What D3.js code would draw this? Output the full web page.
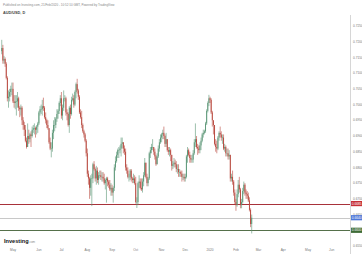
<!DOCTYPE html>
<html>
<head>
<meta charset="utf-8">
<title>AUD/USD, D</title>
<script src="https://cdn.jsdelivr.net/npm/d3@7"></script>
<style>
	body { margin: 0; background: #fff; }
	svg { display: block; font-family: "Liberation Sans", Arial, sans-serif; }
</style>
</head>
<body>
<script type="text/javascript">
	// daily AUD/USD bars, first bar 17 Apr 2019, one entry per weekday
	var startDay = "2019-04-17";
	var axisEndDay = "2020-06-30";
	var firstOpen = 0.7170;

	var closes = [
		0.7180,0.7140,0.7145,0.7130,0.7085,0.7020,0.7025,0.7040,0.7050,0.7050,
		0.7010,0.7005,0.7010,0.7010,0.7020,0.6990,0.6985,0.6990,0.6950,0.6935,0.6920,0.6885,0.6865,0.6900,0.6890,0.6905,0.6900,0.6920,0.6925,0.6925,0.6920,0.6930,0.6940,
		0.6975,0.6985,0.6985,0.6995,0.6990,0.6960,0.6950,0.6935,0.6925,0.6880,0.6860,0.6860,0.6910,0.6935,0.6935,0.6955,0.6970,0.6980,0.7005,0.7020,
		0.6965,0.6990,0.7020,0.7020,0.6975,0.6970,0.6935,0.6990,0.6970,0.7015,0.7020,0.7000,0.7040,0.7065,0.7045,0.7025,0.6975,0.6960,0.6935,0.6915,0.6905,0.6885,0.6845,
		0.6780,0.6765,0.6735,0.6765,0.6765,0.6810,0.6795,0.6765,0.6790,0.6760,0.6775,0.6775,0.6770,0.6770,0.6765,0.6750,0.6760,0.6765,0.6755,0.6745,0.6730,0.6735,
		0.6720,0.6735,0.6800,0.6820,0.6840,0.6855,0.6855,0.6860,0.6875,0.6880,0.6860,0.6850,0.6800,0.6790,0.6770,0.6770,0.6790,0.6765,0.6760,0.6765,0.6750,
		0.6690,0.6690,0.6750,0.6755,0.6735,0.6730,0.6755,0.6775,0.6815,0.6770,0.6750,0.6765,0.6845,0.6855,0.6865,0.6865,0.6850,0.6835,0.6810,0.6835,0.6860,0.6880,0.6895,
		0.6905,0.6910,0.6900,0.6875,0.6890,0.6855,0.6850,0.6855,0.6840,0.6805,0.6810,0.6815,0.6810,0.6795,0.6795,0.6785,0.6785,0.6780,0.6770,0.6770,0.6765,
		0.6770,0.6835,0.6855,0.6840,0.6830,0.6825,0.6825,0.6845,0.6880,0.6890,0.6865,0.6860,0.6855,0.6870,0.6885,0.6905,0.6910,0.6915,0.6940,0.6980,0.7005,0.7020,
		0.7015,0.6975,0.6950,0.6935,0.6875,0.6865,0.6860,0.6895,0.6910,0.6905,0.6895,0.6895,0.6860,0.6865,0.6845,0.6845,0.6835,0.6840,0.6765,0.6770,0.6755,0.6720,0.6690,
		0.6680,0.6715,0.6745,0.6730,0.6680,0.6690,0.6725,0.6745,0.6720,0.6715,0.6710,0.6695,0.6665,0.6620,0.6640
	];
	var highs = [
		0.7206,0.7190,0.7155,0.7150,0.7135,0.7090,0.7045,0.7050,0.7060,0.7070,
		0.7070,0.7030,0.7030,0.7030,0.7040,0.7025,0.6995,0.7000,0.6995,0.6960,0.6945,0.6935,0.6895,0.6940,0.6920,0.6910,0.6915,0.6930,0.6935,0.6940,0.6930,0.6935,0.6945,
		0.6980,0.6995,0.7000,0.7015,0.7022,0.6995,0.6975,0.6955,0.6950,0.6925,0.6895,0.6880,0.6920,0.6950,0.6960,0.6960,0.6985,0.6985,0.7010,0.7030,
		0.7040,0.7000,0.7045,0.7030,0.7025,0.6985,0.6975,0.6995,0.7000,0.7025,0.7035,0.7030,0.7045,0.7070,0.7082,0.7050,0.7030,0.6985,0.6980,0.6940,0.6920,0.6910,0.6890,
		0.6860,0.6790,0.6770,0.6775,0.6780,0.6815,0.6820,0.6800,0.6805,0.6800,0.6785,0.6790,0.6790,0.6785,0.6785,0.6780,0.6765,0.6770,0.6770,0.6760,0.6760,0.6750,
		0.6745,0.6740,0.6810,0.6835,0.6850,0.6860,0.6865,0.6870,0.6895,0.6895,0.6880,0.6870,0.6860,0.6810,0.6800,0.6780,0.6795,0.6795,0.6770,0.6780,0.6775,
		0.6770,0.6705,0.6755,0.6775,0.6765,0.6765,0.6765,0.6785,0.6830,0.6815,0.6780,0.6770,0.6850,0.6865,0.6875,0.6890,0.6865,0.6860,0.6840,0.6845,0.6870,0.6890,0.6905,
		0.6910,0.6920,0.6930,0.6905,0.6910,0.6890,0.6865,0.6865,0.6860,0.6840,0.6820,0.6830,0.6825,0.6820,0.6810,0.6810,0.6795,0.6790,0.6790,0.6780,0.6780,
		0.6780,0.6840,0.6865,0.6860,0.6850,0.6840,0.6840,0.6855,0.6890,0.6940,0.6900,0.6875,0.6870,0.6880,0.6895,0.6910,0.6920,0.6920,0.6945,0.6985,0.7010,0.7031,
		0.7025,0.7020,0.6980,0.6945,0.6935,0.6890,0.6885,0.6900,0.6915,0.6930,0.6915,0.6905,0.6905,0.6875,0.6870,0.6860,0.6860,0.6855,0.6810,0.6780,0.6790,0.6760,0.6730,
		0.6700,0.6730,0.6760,0.6770,0.6735,0.6700,0.6735,0.6755,0.6750,0.6730,0.6725,0.6720,0.6705,0.6670,0.6650
	];
	var lows = [
		0.7160,0.7130,0.7130,0.7120,0.7080,0.7010,0.6990,0.7010,0.7025,0.7030,
		0.7005,0.6990,0.6985,0.6965,0.6990,0.6980,0.6960,0.6965,0.6935,0.6920,0.6900,0.6880,0.6860,0.6880,0.6875,0.6880,0.6865,0.6895,0.6910,0.6905,0.6895,0.6905,0.6910,
		0.6935,0.6965,0.6970,0.6965,0.6980,0.6955,0.6940,0.6925,0.6920,0.6875,0.6855,0.6832,0.6850,0.6890,0.6915,0.6925,0.6945,0.6955,0.6970,0.6995,
		0.6955,0.6950,0.6980,0.7010,0.6965,0.6950,0.6930,0.6910,0.6955,0.6965,0.7010,0.6990,0.6995,0.7020,0.7035,0.7015,0.6970,0.6955,0.6925,0.6910,0.6895,0.6880,0.6835,
		0.6770,0.6745,0.6700,0.6710,0.6677,0.6750,0.6790,0.6755,0.6745,0.6750,0.6745,0.6765,0.6760,0.6755,0.6755,0.6745,0.6730,0.6688,0.6740,0.6735,0.6725,0.6710,
		0.6710,0.6688,0.6725,0.6790,0.6815,0.6830,0.6830,0.6845,0.6835,0.6860,0.6845,0.6840,0.6790,0.6780,0.6765,0.6755,0.6760,0.6755,0.6750,0.6750,0.6745,
		0.6685,0.6671,0.6680,0.6735,0.6730,0.6725,0.6720,0.6740,0.6770,0.6765,0.6740,0.6740,0.6760,0.6830,0.6845,0.6855,0.6840,0.6825,0.6805,0.6810,0.6830,0.6850,0.6875,
		0.6880,0.6890,0.6890,0.6865,0.6865,0.6850,0.6840,0.6835,0.6820,0.6790,0.6795,0.6800,0.6800,0.6785,0.6780,0.6770,0.6770,0.6770,0.6755,0.6760,0.6755,
		0.6755,0.6765,0.6815,0.6835,0.6815,0.6815,0.6815,0.6815,0.6840,0.6865,0.6860,0.6840,0.6845,0.6845,0.6855,0.6880,0.6895,0.6905,0.6910,0.6935,0.6975,0.6995,
		0.7005,0.6970,0.6930,0.6905,0.6870,0.6850,0.6845,0.6855,0.6885,0.6895,0.6885,0.6875,0.6855,0.6850,0.6835,0.6835,0.6825,0.6825,0.6755,0.6755,0.6745,0.6710,0.6682,
		0.6662,0.6675,0.6705,0.6720,0.6670,0.6670,0.6685,0.6715,0.6710,0.6700,0.6700,0.6690,0.6660,0.6610,0.6590
	];

	var priceTicks = d3.range(0.6550, 0.72501, 0.005);
	// drawn levels: support, last price, target
	var levelValues = [0.6685, 0.6640, 0.6600];
	var levelLabels = ["0.6685", "0.6640", "0.6600"];
	var levelLine = ["#a8323a", "#c8c8c8", "#55704a"];
	var levelBadge = ["#c62f37", "#4f78d8", "#3e6b36"];

	var headerText = "Published on Investing.com, 21/Feb/2020 - 10:52:10 GMT, Powered by TradingView";
	var titleText = "AUD/USD, D";

	var w = 362;
	var h = 254;
	var plotRight = 350;

	var svg = d3.select("body")
		.append("svg")
		.attr("width", w)
		.attr("height", h);

	// weekday calendar from the first bar to the end of the time axis
	var parse = d3.timeParse("%Y-%m-%d");
	var days = d3.timeDay.range(parse(startDay), d3.timeDay.offset(parse(axisEndDay), 1))
		.filter(function(d){ return d.getDay() != 0 && d.getDay() != 6; });

	var bars = closes.map(function(c, i){
		var o = i == 0 ? firstOpen : closes[i - 1];
		return { i: i, date: days[i], o: o, h: Math.max(highs[i], o, c), l: Math.min(lows[i], o, c), c: c };
	});

	var x = d3.scaleLinear().domain([-1.55, 309.3]).range([0, plotRight]);
	var y = d3.scaleLinear().domain([0.6550, 0.7250]).range([246, 26]);

	// axis border
	svg.append("line")
		.attr("x1", plotRight + 0.5).attr("x2", plotRight + 0.5)
		.attr("y1", 15).attr("y2", h)
		.attr("stroke", "#d6d6d6").attr("stroke-width", 1);

	// horizontal levels
	svg.selectAll("line.level")
		.data(levelValues)
		.enter()
		.append("line")
		.attr("class", "level")
		.attr("x1", 0).attr("x2", plotRight)
		.attr("y1", function(d){ return Math.round(y(d)) + 0.5; })
		.attr("y2", function(d){ return Math.round(y(d)) + 0.5; })
		.attr("stroke", function(d, i){ return levelLine[i]; })
		.attr("stroke-width", 1);

	// candles
	var upColor = "#5a9676";
	var downColor = "#b8483e";
	var cand = svg.append("g").selectAll("g")
		.data(bars)
		.enter()
		.append("g");
	cand.append("line")
		.attr("x1", function(d){ return x(d.i); })
		.attr("x2", function(d){ return x(d.i); })
		.attr("y1", function(d){ return y(d.h); })
		.attr("y2", function(d){ return y(d.l); })
		.attr("stroke", function(d){ return d.c >= d.o ? upColor : downColor; })
		.attr("stroke-width", 0.6);
	cand.append("rect")
		.attr("x", function(d){ return x(d.i) - 0.45; })
		.attr("width", 0.9)
		.attr("y", function(d){ return y(Math.max(d.o, d.c)); })
		.attr("height", function(d){ return Math.max(0.5, Math.abs(y(d.o) - y(d.c))); })
		.attr("fill", function(d){ return d.c >= d.o ? upColor : downColor; });

	// price axis labels
	svg.selectAll("text.ptick")
		.data(priceTicks)
		.enter()
		.append("text")
		.attr("class", "ptick")
		.text(function(d){ return d3.format(".4f")(d); })
		.attr("x", 353)
		.attr("y", function(d){ return y(d) + 1.1; })
		.attr("font-size", "3.2px")
		.attr("fill", "#777");

	// level badges
	svg.selectAll("rect.badge")
		.data(levelValues)
		.enter()
		.append("rect")
		.attr("class", "badge")
		.attr("x", plotRight + 1)
		.attr("y", function(d){ return y(d) - 2.6; })
		.attr("width", 11)
		.attr("height", 5.2)
		.attr("fill", function(d, i){ return levelBadge[i]; });
	svg.selectAll("text.badge")
		.data(levelValues)
		.enter()
		.append("text")
		.attr("class", "badge")
		.text(function(d, i){ return levelLabels[i]; })
		.attr("x", plotRight + 1.8)
		.attr("y", function(d){ return y(d) + 1.1; })
		.attr("font-size", "3.2px")
		.attr("fill", "#fff");

	// month labels on the time axis
	var monthStarts = days.filter(function(d, i){ return i > 0 && d.getMonth() != days[i - 1].getMonth(); });
	svg.selectAll("text.mtick")
		.data(monthStarts)
		.enter()
		.append("text")
		.attr("class", "mtick")
		.text(function(d){ return d.getMonth() == 0 ? d3.timeFormat("%Y")(d) : d3.timeFormat("%b")(d); })
		.attr("text-anchor", "middle")
		.attr("x", function(d){ return x(days.indexOf(d)); })
		.attr("y", 251)
		.attr("font-size", "3.2px")
		.attr("fill", "#777");

	// header
	svg.append("text")
		.text(headerText)
		.attr("x", 3).attr("y", 6)
		.attr("font-size", "3px")
		.attr("fill", "#888");
	svg.append("text")
		.text(titleText)
		.attr("x", 3).attr("y", 14)
		.attr("font-size", "3.8px")
		.attr("font-weight", "bold")
		.attr("fill", "#444");

	// logo
	var logo = svg.append("text").attr("x", 4).attr("y", 242.5);
	logo.append("tspan")
		.text("Investing")
		.attr("font-size", "5.6px")
		.attr("font-weight", "bold")
		.attr("fill", "#111");
	logo.append("tspan")
		.text(".com")
		.attr("font-size", "3px")
		.attr("fill", "#888");
</script>
</body>
</html>
